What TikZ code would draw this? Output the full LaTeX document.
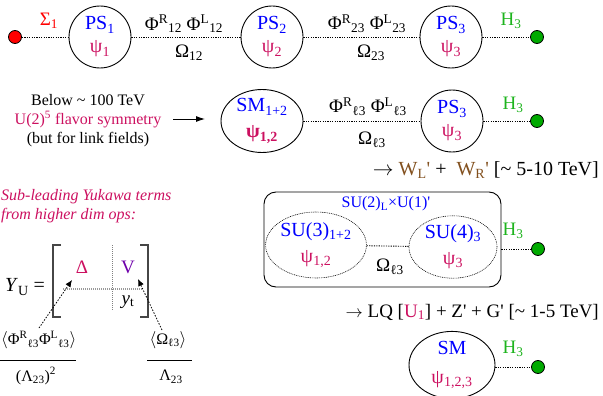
\documentclass[tikz,border=0pt]{standalone}
\usepackage{fontspec}
\setmainfont{Liberation Serif}
\usetikzlibrary{shapes.geometric,arrows.meta}
\definecolor{psblue}{RGB}{0,0,255}
\definecolor{psicol}{RGB}{204,16,96}
\definecolor{hgreen}{RGB}{30,180,30}
\definecolor{dotgreen}{RGB}{0,170,0}
\definecolor{wbrown}{RGB}{130,80,30}
\definecolor{vpurple}{RGB}{110,0,170}
\definecolor{brgray}{RGB}{70,70,70}
\newcommand\sbs[1]{\textsubscript{#1}}
\newcommand\sps[1]{\textsuperscript{#1}}
\newcommand\prm{\textquotesingle}
\begin{document}
\begin{tikzpicture}[x=1pt,y=-1pt,
  every node/.style={font=\fontsize{18}{21}\selectfont, inner sep=0pt},
  lab/.style={font=\fontsize{19}{22}\selectfont},
  big/.style={font=\fontsize{20}{22}\selectfont},
  small/.style={font=\fontsize{16}{19}\selectfont},
  circ/.style={draw, circle, line width=0.9pt, minimum size=62pt, align=center, font=\fontsize{20}{23}\selectfont},
  ovl/.style={draw, ellipse, line width=0.9pt, align=center, font=\fontsize{20}{26}\selectfont},
  dovl/.style={draw, ellipse, line width=0.6pt, dash pattern=on 0.9pt off 0.9pt, align=center, font=\fontsize{20}{26}\selectfont},
  link/.style={line width=0.9pt, dash pattern=on 1.2pt off 1.2pt},
  rdot/.style={circle, draw, line width=0.8pt, minimum size=13pt, fill=red},
  gdot/.style={circle, draw, line width=0.8pt, minimum size=13pt, fill=dotgreen},
  dotarrow/.style={line width=0.8pt, dash pattern=on 1.5pt off 1.5pt, -{Latex[length=7pt,width=6pt]}},
]
\useasboundingbox (0,0) rectangle (603,396);

% ---------- Row 1 ----------
\node[rdot] (rd) at (15,37) {};
\node[circ] (ps1) at (100,37) {\textcolor{psblue}{PS\sbs{1}}\\\textcolor{psicol}{ψ\sbs{1}}};
\node[circ] (ps2) at (272,37) {\textcolor{psblue}{PS\sbs{2}}\\\textcolor{psicol}{ψ\sbs{2}}};
\node[circ] (ps3) at (451,37) {\textcolor{psblue}{PS\sbs{3}}\\\textcolor{psicol}{ψ\sbs{3}}};
\node[gdot] (gd1) at (537,37) {};
\draw[link] (rd) -- (ps1);
\draw[link] (ps1) -- (ps2);
\draw[link] (ps2) -- (ps3);
\draw[link] (ps3) -- (gd1);
\node[lab, text=red] (s1) at (49,21) {Σ\sbs{1}};
\node[lab] (phi12) at (184,24) {Φ\sps{R}\sbs{12} Φ\sps{L}\sbs{12}};
\node[lab] (om12) at (189,53) {Ω\sbs{12}};
\node[lab] (phi23) at (367,24) {Φ\sps{R}\sbs{23} Φ\sps{L}\sbs{23}};
\node[lab] (om23) at (371,53) {Ω\sbs{23}};
\node[lab, text=hgreen] (h1) at (511,21) {H\sbs{3}};

% ---------- Row 2 ----------
\node[small, align=center] (below) at (88,121) {Below \textasciitilde{} 100 TeV\\\textcolor{psicol}{U(2)\sps{5} flavor symmetry}\\(but for link fields)};
\coordinate (a1) at (173,119);
\coordinate (a2) at (205,119);
\draw[line width=0.9pt, -{Latex[length=9pt,width=6pt]}] (a1) -- (a2);
\node[ovl, minimum width=82pt, minimum height=60pt] (sm12) at (262,121) {\textcolor{psblue}{SM\sbs{1+2}}\\\textcolor{psicol}{\textbf{ψ\sbs{1,2}}}};
\node[circ] (ps3b) at (452,121) {\textcolor{psblue}{PS\sbs{3}}\\\textcolor{psicol}{ψ\sbs{3}}};
\node[gdot] (gd2) at (537,121) {};
\draw[link] (sm12) -- (ps3b);
\draw[link] (ps3b) -- (gd2);
\node[lab] (phil3) at (368,107) {Φ\sps{R}\sbs{ℓ3} Φ\sps{L}\sbs{ℓ3}};
\node[lab] (oml3) at (372,140) {Ω\sbs{ℓ3}};
\node[lab, text=hgreen] (h2) at (513,105) {H\sbs{3}};
\node[anchor=east, big] (wlr) at (599,170) {$\rightarrow$ \textcolor{wbrown}{W\sbs{L}\prm} +\ \ \textcolor{wbrown}{W\sbs{R}\prm} [\textasciitilde{} 5-10 TeV]};

% ---------- Row 3 ----------
\node[draw, rounded corners=12pt, line width=0.9pt, minimum width=237pt, minimum height=95pt] (box) at (382.5,239.5) {};
\node[small, text=psblue] (su2) at (386,204) {SU(2)\sbs{L}×U(1)\prm};
\node[dovl, minimum width=88pt, minimum height=66pt] (su3) at (316,245) {\textcolor{psblue}{SU(3)\sbs{1+2}}\\\textcolor{psicol}{ψ\sbs{1,2}}};
\node[dovl, minimum width=88pt, minimum height=62pt] (su4) at (453,247) {\textcolor{psblue}{SU(4)\sbs{3}}\\\textcolor{psicol}{ψ\sbs{3}}};
\draw[link] (su3) -- (su4);
\node[lab] (oml3b) at (390,267) {Ω\sbs{ℓ3}};
\node[lab, text=hgreen] (h3) at (513,231) {H\sbs{3}};
\node[gdot] (gd3) at (538,249) {};
\draw[link] (gd3 -| box.east) -- (gd3);
\node[anchor=east, lab] (lq) at (599,312) {$\rightarrow$ LQ [\textcolor{psicol}{U\sbs{1}}] + Z\prm{} + G\prm{} [\textasciitilde{} 1-5 TeV]};

% ---------- Row 4 ----------
\node[ovl, minimum width=86pt, minimum height=64pt, font=\fontsize{20}{29}\selectfont] (sm) at (452,365) {\textcolor{psblue}{SM}\\\textcolor{psicol}{ψ\sbs{1,2,3}}};
\node[gdot] (gd4) at (538,367) {};
\draw[link] (gd4 -| sm.east) -- (gd4);
\node[lab, text=hgreen] (h4) at (513,349) {H\sbs{3}};

% ---------- Left panel ----------
\node[anchor=west, text=psicol, font=\itshape\fontsize{16}{19}\selectfont] (sl1) at (1,197) {Sub-leading Yukawa terms};
\node[anchor=west, text=psicol, font=\itshape\fontsize{16}{19}\selectfont] (sl2) at (1,216) {from higher dim ops:};
\node[font=\fontsize{20}{23}\selectfont] (yu) at (25,287) {\textit{Y}\sbs{U} =};
\draw[brgray, line width=1.2pt] (61,245) -- (53,245) -- (53,317) -- (61,317);
\draw[brgray, line width=1.2pt] (140,245) -- (148,245) -- (148,317) -- (140,317);
\draw[gray, line width=0.8pt, dash pattern=on 1pt off 1pt] (112,245) -- (112,310);
\draw[gray!80, line width=1.6pt, dash pattern=on 1pt off 1pt] (63,289) -- (143,289);
\node[lab, text=psicol] (delta) at (82,267) {Δ};
\node[lab, text=vpurple] (vv) at (128,267) {V};
\node[lab] (yt) at (128,302) {\textit{y}\sbs{t}};
\node[small, anchor=west] (numL) at (1,340) {$\langle$Φ\sps{R}\sbs{ℓ3}Φ\sps{L}\sbs{ℓ3}$\rangle$};
\node[small] (denL) at (36,376) {(Λ\sbs{23})\sps{2}};
\draw[line width=0.8pt] (0,360) -- (76,360);
\node[small] (numR) at (168,340) {$\langle$Ω\sbs{ℓ3}$\rangle$};
\node[small] (denR) at (171,377) {Λ\sbs{23}};
\draw[line width=0.8pt] (147,360) -- (192,360);
\coordinate (s1a) at (39,328);
\coordinate (t1a) at (72,280);
\coordinate (s2a) at (162,330);
\coordinate (t2a) at (138,279);
\draw[dotarrow] (s1a) -- (t1a);
\draw[dotarrow] (s2a) -- (t2a);
\end{tikzpicture}
\end{document}
